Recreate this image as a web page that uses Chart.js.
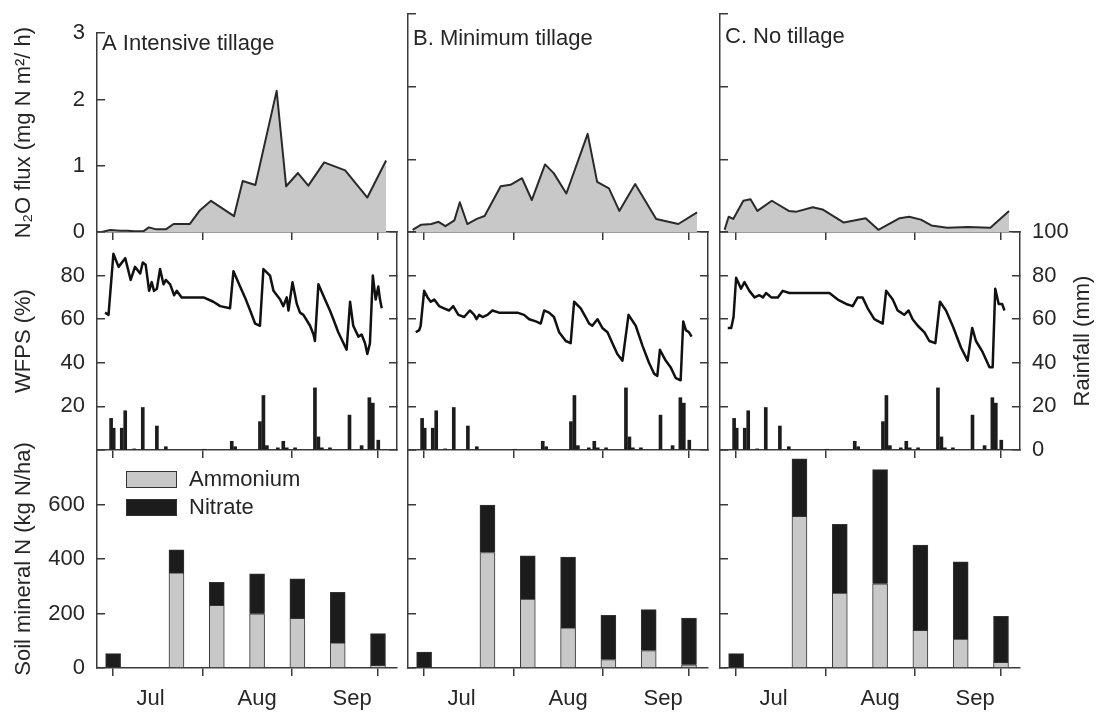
<!DOCTYPE html>
<html>
<head>
<meta charset="utf-8">
<script src="https://cdn.jsdelivr.net/npm/chart.js@4.4.0/dist/chart.umd.min.js"></script>
<style>
html, body { margin: 0; padding: 0; background: #fff; }
#wrap { position: relative; width: 1103px; height: 714px; }
#wrap canvas { position: absolute; left: 0; top: 0; }
</style>
</head>
<body>
<div id="wrap"></div>
<script>
// ---------------- data (x = days since 1 July) ----------------
const monthTicks = [0, 31, 62, 92];
const monthLabelDays = [13, 50, 83];
const monthNames = ['Jul', 'Aug', 'Sep'];

const panelNames = ['A Intensive tillage', 'B. Minimum tillage', 'C. No tillage'];

// N2O flux sampling days and values (mg N m-2 h-1), null = not sampled
const fluxDays = [-4, -2.6, -1, 2.5, 5, 7.4, 10.5, 12.4, 15, 18.3, 21, 26.6, 30, 34, 37.4, 42, 45, 49.4, 56.8, 60.1, 64.2, 67.8, 73.3, 80.6, 88.3, 94.8];
const fluxA = [0, null, 0.03, 0.02, 0.02, 0.01, 0.01, 0.07, 0.04, 0.04, 0.12, 0.12, 0.32, 0.47, null, 0.24, 0.77, 0.71, 2.13, 0.69, 0.89, 0.70, 1.05, 0.93, 0.52, 1.08];
const fluxB = [0.03, null, 0.10, 0.11, 0.14, 0.08, 0.16, 0.41, 0.11, 0.18, 0.22, 0.63, 0.65, 0.74, 0.44, 0.93, 0.81, 0.53, 1.35, 0.69, 0.60, 0.29, 0.66, 0.18, 0.11, 0.27];
const fluxC = [0.03, 0.21, 0.18, 0.43, 0.45, 0.29, null, 0.43, null, 0.29, 0.28, 0.34, 0.31, null, 0.13, null, 0.19, 0.03, 0.19, 0.21, 0.17, 0.09, 0.06, 0.07, 0.06, 0.29];

// WFPS (%)
const wfpsDaysA = [-2.8, -1.6, 0.1, 1.9, 4.2, 6.1, 7.6, 9.4, 10.3, 11.3, 12.5, 13.4, 14.2, 15.2, 16.3, 17.5, 18.3, 19.8, 21.2, 22.1, 23.8, 26.7, 29.1, 31.4, 34.8, 37.2, 40.6, 41.8, 44.1, 45.8, 47.6, 49.3, 51.0, 52.2, 54.5, 55.7, 58.0, 59.1, 60.3, 60.9, 62.3, 63.8, 64.9, 66.1, 68.4, 69.6, 70.1, 71.3, 73.6, 75.3, 76.5, 78.2, 81.1, 82.3, 83.4, 85.2, 86.3, 87.5, 88.3, 89.2, 90.2, 91.2, 92.1, 92.7, 93.3];
const wfpsA = [63, 62, 90, 84, 88, 78, 84, 81, 86, 85, 73, 77, 73, 74, 83, 76, 78, 76, 71, 73, 70, 70, 70, 70, 68, 66, 65, 82, 75, 70, 64, 58, 57, 83, 80, 73, 69, 66, 70, 64, 77, 67, 63, 62, 57, 53, 50, 76, 69, 64, 60, 54, 46, 68, 57, 52, 53, 49, 44, 49, 80, 69, 75, 69, 65];
const wfpsDaysB = [-2.9, -1.7, -1.2, 0, 1.2, 2.3, 3.5, 5.2, 6.9, 8.7, 10.1, 11.9, 13.9, 15.9, 17.4, 18.2, 19.1, 20.3, 22.0, 23.7, 26.0, 29.5, 32.4, 34.7, 36.5, 38.8, 40.5, 41.7, 43.4, 45.1, 46.9, 49.2, 50.9, 52.1, 54.4, 56.1, 57.3, 58.4, 60.2, 61.9, 63.7, 65.4, 67.1, 68.9, 71.0, 73.5, 75.8, 78.1, 79.9, 81.0, 81.9, 83.9, 85.6, 87.4, 89.1, 90.0, 90.9, 92.0, 92.9];
const wfpsB = [54, 55, 57, 73, 70, 68, 69, 66, 65, 64, 66, 62, 61, 64, 62, 60, 62, 61, 62, 64, 63, 63, 63, 62, 60, 59, 58, 64, 63, 61, 54, 50, 49, 68, 65, 61, 58, 57, 60, 56, 54, 49, 44, 41, 62, 57, 48, 40, 35, 34, 46, 41, 38, 33, 32, 59, 55, 54, 52];
const wfpsDaysC = [-2.9, -1.7, -0.9, 0, 1.7, 2.9, 4.6, 6.4, 8.1, 9.3, 10.4, 12.2, 14.5, 16.2, 18.5, 20.8, 23.1, 25.5, 28.9, 32.4, 35.3, 38.2, 40.5, 42.2, 43.9, 45.7, 48.0, 50.9, 52.1, 54.4, 56.1, 57.3, 58.4, 59.9, 61.3, 63.1, 65.4, 67.1, 69.2, 70.8, 72.9, 75.2, 78.1, 80.4, 82.0, 83.3, 85.6, 88.0, 89.1, 90.0, 91.2, 92.4, 93.2];
const wfpsC = [56, 56, 61, 79, 74, 77, 73, 70, 71, 70, 72, 70, 70, 73, 72, 72, 72, 72, 72, 72, 69, 67, 66, 70, 70, 65, 60, 58, 73, 69, 64, 63, 62, 64, 60, 57, 54, 50, 49, 68, 64, 57, 47, 41, 56, 50, 45, 38, 38, 74, 67, 67, 64];

// daily rainfall (mm), same site for all three treatments
const rainDays = [-0.7, 0.2, 3.0, 4.2, 7.3, 10.3, 15.2, 18.3, 31.6, 41.2, 42.4, 51.0, 52.2, 53.4, 57.2, 59.1, 60.3, 63.2, 70.1, 71.3, 72.5, 75.3, 82.1, 86.3, 89.0, 90.2, 92.1];
const rain = [14.5, 10, 10, 18, 0.5, 19.5, 11, 1.5, 0.3, 4, 1.5, 13, 25, 2, 1, 4, 1, 1, 28.5, 6, 1, 1, 16, 2, 24, 21.5, 4.5];

// soil mineral N (kg N/ha)
const soilDays = [0, 22, 36, 50, 64, 78, 92];
const ammoniumA = [0, 349, 230, 199, 182, 92, 10];
const nitrateA = [53, 85, 84, 147, 145, 186, 116];
const ammoniumB = [0, 424, 253, 147, 31, 64, 12];
const nitrateB = [58, 174, 159, 260, 162, 150, 171];
const ammoniumC = [0, 557, 275, 309, 138, 106, 21];
const nitrateC = [53, 211, 252, 419, 313, 284, 169];

// ---------------- layout / style ----------------
const W = 1103, H = 714;
const FONT = "'Liberation Sans', Arial, sans-serif";
const TEXT = '#262626';
const AXIS = '#3a3a3a';
const FILL = '#c8c8c8';
const DARK = '#1c1c1c';
const X_MIN = -5.6, X_MAX = 98.6;

const COLS = [
  {left: 97, right: 397, dy: 50},
  {left: 408, right: 708, dy: 45},
  {left: 720, right: 1020, dy: 43}
];
const ROWS = {
  flux: {top: 14, bottom: 232},
  wfps: {top: 232, bottom: 450},
  soil: {top: 450, bottom: 668}
};

Chart.defaults.font.family = FONT;
Chart.defaults.font.size = 22;
Chart.defaults.color = TEXT;
Chart.defaults.animation = false;

function pts(xs, ys) {
  const out = [];
  xs.forEach((x, i) => { if (ys[i] !== null) out.push({x: x, y: ys[i]}); });
  return out;
}

// padding so that the chart area lands exactly on the panel box
function pad(col, row, lw, rw, bh) {
  return {left: col.left - lw, right: W - col.right - rw, top: row.top, bottom: H - row.bottom - bh};
}

function xAxis(showLabels, h) {
  const tv = (showLabels ? monthTicks.concat(monthLabelDays) : monthTicks.slice()).sort((a, b) => a - b);
  return {
    type: 'linear', position: 'bottom', min: X_MIN, max: X_MAX, offset: false, stacked: true,
    afterFit: s => { s.height = h; },
    afterBuildTicks: s => { s.ticks = tv.map(v => ({value: v})); },
    border: {display: true, color: AXIS, width: 1.5},
    grid: {
      offset: false, drawOnChartArea: false, drawTicks: true, tickLength: 8, lineWidth: 1.5,
      color: c => (c.tick && monthLabelDays.includes(c.tick.value)) ? 'rgba(0,0,0,0)' : AXIS
    },
    ticks: {
      display: showLabels, autoSkip: false, maxRotation: 0, minRotation: 0, padding: 10,
      callback: v => { const i = monthLabelDays.indexOf(v); return i >= 0 ? monthNames[i] : ''; }
    }
  };
}

function yAxis(pos, max, step, o) {
  return {
    type: 'linear', position: pos, min: 0, max: max, stacked: !!o.stacked,
    afterFit: s => { s.width = o.width || 0; },
    border: {display: true, color: AXIS, width: 1.5},
    grid: {drawOnChartArea: false, drawTicks: true, tickLength: -8, lineWidth: 1.5, color: AXIS},
    ticks: {display: !!o.labels, stepSize: step, padding: 20, callback: o.callback || (v => v)},
    title: {display: !!o.title, text: o.title || '', padding: {top: 11, bottom: 0}}
  };
}

// panel letter inside the top plot
const panelText = {
  id: 'panelText',
  afterDraw(chart, args, opts) {
    if (!opts.text) return;
    const {ctx, chartArea} = chart;
    ctx.save();
    ctx.font = '22px ' + FONT;
    ctx.fillStyle = TEXT;
    ctx.textBaseline = 'alphabetic';
    ctx.fillText(opts.text, chartArea.left + 5, opts.y);
    ctx.restore();
  }
};

// right-hand title read bottom to top
const sideTitle = {
  id: 'sideTitle',
  afterDraw(chart, args, opts) {
    if (!opts.text) return;
    const {ctx, chartArea} = chart;
    ctx.save();
    ctx.translate(chartArea.right + opts.dx, (chartArea.top + chartArea.bottom) / 2);
    ctx.rotate(-Math.PI / 2);
    ctx.font = '22px ' + FONT;
    ctx.fillStyle = TEXT;
    ctx.textAlign = 'center';
    ctx.textBaseline = 'middle';
    ctx.fillText(opts.text, 0, 0);
    ctx.restore();
  }
};

// legend boxes inside the soil N plot
const boxLegend = {
  id: 'boxLegend',
  afterDraw(chart, args, opts) {
    if (!opts.show) return;
    const {ctx, chartArea} = chart;
    ctx.save();
    ctx.font = '22px ' + FONT;
    ctx.textBaseline = 'middle';
    chart.data.datasets.forEach((ds, k) => {
      const x = chartArea.left + 29, y = chartArea.top + 21 + k * 28;
      ctx.fillStyle = ds.backgroundColor;
      ctx.fillRect(x, y, 50, 16);
      ctx.strokeStyle = '#333';
      ctx.lineWidth = 1;
      ctx.strokeRect(x + 0.5, y + 0.5, 50, 16);
      ctx.fillStyle = TEXT;
      ctx.fillText(ds.label, x + 63, y + 9);
    });
    ctx.restore();
  }
};

function addChart(cfg) {
  const c = document.createElement('canvas');
  c.width = W; c.height = H;
  document.getElementById('wrap').appendChild(c);
  cfg.options.responsive = false;
  cfg.options.devicePixelRatio = 1;
  cfg.options.plugins = Object.assign({legend: {display: false}, tooltip: {enabled: false}}, cfg.options.plugins);
  return new Chart(c, cfg);
}

const fluxSets = [fluxA, fluxB, fluxC];
const wfpsSets = [[wfpsDaysA, wfpsA], [wfpsDaysB, wfpsB], [wfpsDaysC, wfpsC]];
const soilSets = [[ammoniumA, nitrateA], [ammoniumB, nitrateB], [ammoniumC, nitrateC]];

COLS.forEach((col, i) => {
  const first = i === 0;
  const last = i === 2;
  const lw = first ? col.left : 0;
  const rw = last ? W - col.right : 0;

  // ---- N2O flux ----
  addChart({
    type: 'line',
    data: {datasets: [{
      data: pts(fluxDays, fluxSets[i]),
      borderColor: '#2a2a2a', borderWidth: 2, borderJoinStyle: 'round',
      backgroundColor: FILL, fill: 'origin', pointRadius: 0
    }]},
    options: {
      layout: {padding: pad(col, ROWS.flux, lw, 0, 0)},
      scales: {
        x: xAxis(false, 0),
        y: yAxis('left', 3, 1, {width: lw, labels: first, title: first ? 'N\u2082O flux (mg N m\u00b2/ h)' : ''})
      },
      plugins: {panelText: {text: panelNames[i], y: col.dy}}
    },
    plugins: [panelText]
  });

  // ---- WFPS + rainfall ----
  addChart({
    type: 'line',
    data: {datasets: [
      {
        type: 'line', label: 'WFPS', yAxisID: 'y',
        data: pts(wfpsSets[i][0], wfpsSets[i][1]),
        borderColor: '#111', borderWidth: 2.5, borderJoinStyle: 'round', pointRadius: 0, fill: false
      },
      {
        type: 'bar', label: 'Rainfall', yAxisID: 'y',
        data: pts(rainDays, rain),
        backgroundColor: DARK, borderWidth: 0, barThickness: 3
      }
    ]},
    options: {
      layout: {padding: pad(col, ROWS.wfps, lw, rw, 0)},
      scales: {
        x: xAxis(false, 0),
        y: yAxis('left', 100, 20, {width: lw, labels: first, title: first ? 'WFPS (%)' : '',
          callback: v => (v === 0 || v === 100) ? '' : v}),
        y2: yAxis('right', 100, 20, {width: rw, labels: last})
      },
      plugins: {sideTitle: {text: last ? 'Rainfall (mm)' : '', dx: 63}}
    },
    plugins: [sideTitle]
  });

  // ---- soil mineral N ----
  addChart({
    type: 'bar',
    data: {datasets: [
      {
        label: 'Ammonium', data: pts(soilDays, soilSets[i][0]),
        backgroundColor: FILL, borderColor: '#333', borderWidth: 1, barThickness: 15
      },
      {
        label: 'Nitrate', data: pts(soilDays, soilSets[i][1]),
        backgroundColor: DARK, borderColor: '#333', borderWidth: 1, barThickness: 15
      }
    ]},
    options: {
      layout: {padding: pad(col, ROWS.soil, lw, 0, H - ROWS.soil.bottom)},
      scales: {
        x: xAxis(true, H - ROWS.soil.bottom),
        y: yAxis('left', 800, 200, {width: lw, labels: first, stacked: true,
          title: first ? 'Soil mineral N (kg N/ha)' : '', callback: v => v === 800 ? '' : v})
      },
      plugins: {boxLegend: {show: first}}
    },
    plugins: [boxLegend]
  });
});
</script>
</body>
</html>
